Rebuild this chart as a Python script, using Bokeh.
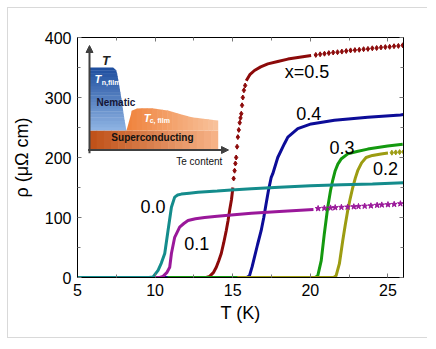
import numpy as np
from bokeh.plotting import figure
from bokeh.models import Range1d, LinearAxis, Label, Arrow, NormalHead, FixedTicker, CustomJSTickFormatter
from bokeh.embed import file_html
from bokeh.resources import INLINE

# ---------------- data ----------------
x_ticks = [5, 10, 15, 20, 25]
x_minor = [7.5, 12.5, 17.5, 22.5]
y_ticks = [0, 100, 200, 300, 400]
y_minor = [50, 150, 250, 350]

# x = 0.0
T_00 = [5, 9.6, 9.87, 10.19, 10.4, 10.62, 10.83, 11.05, 11.26, 11.45, 11.69, 12.2, 12.76, 14.0, 14.9, 16.2, 18.0, 20.0, 22.0, 24.0, 26.0]
R_00 = [0, 0, 1, 12, 24, 40, 78, 117, 134, 137.5, 139, 140.5, 142, 144, 146, 148, 150.5, 153, 154.5, 156, 158]
# x = 0.1
T_01 = [5, 10.3, 10.51, 10.75, 10.94, 11.05, 11.26, 11.58, 11.85, 12.12, 12.6, 13.19, 14.0, 14.9, 16.2, 18.0, 20.2]
R_01 = [0, 0, 2, 8, 17, 40, 67, 84, 90, 95, 98, 100, 102, 104, 107, 110, 113.5]
T_01_tail = [20.5, 20.9, 21.3, 21.6, 22.0, 22.4, 22.8, 23.1, 23.5, 23.9, 24.3, 24.6, 25.0, 25.4, 25.8]
R_01_tail = [115, 115.5, 116, 116.5, 117, 117.5, 118, 118.5, 119, 119.5, 120.5, 121, 121.5, 122, 123]
# x = 0.2
T_02 = [15.3, 21.5, 21.66, 21.87, 22.09, 22.25, 22.41, 22.57, 22.73, 22.9, 23.05, 23.3, 23.59, 24.0, 24.55, 25.0]
R_02 = [0, 0, 3, 23, 62, 88, 112, 132, 150, 166, 178, 191, 200, 203.5, 206, 207.5]
T_02_tail = [25.25, 25.5, 25.75, 26.0]
R_02_tail = [208, 208.5, 209, 209.5]
# x = 0.3
T_03 = [10.8, 20.3, 20.48, 20.7, 20.9, 21.12, 21.3, 21.44, 21.6, 21.77, 22.0, 22.41, 23.0, 23.7, 24.98, 25.95]
R_03 = [0, 0, 3, 28, 73, 117, 145, 162, 178, 189, 198, 206, 210, 214, 219, 222]
# x = 0.4
T_04 = [5, 15.9, 16.08, 16.25, 16.4, 16.6, 16.83, 17.0, 17.15, 17.3, 17.48, 17.58, 17.9, 18.33, 18.55, 19.19, 20.05, 21.55, 23.7, 25.8, 26.0]
R_04 = [0, 0, 3, 18, 34, 55, 78, 100, 123, 145, 167, 173, 200, 223, 234, 248, 256, 262, 267, 271, 271.5]
# x = 0.5
T_05_low = [5, 13.3, 13.51, 13.75, 13.94, 14.1, 14.26, 14.42, 14.58, 14.7, 14.8, 14.92, 15.01]
R_05_low = [0, 0, 2, 8, 17, 28, 40, 58, 78, 95, 112, 130, 150]
T_05_steep = [15.06, 15.12, 15.17, 15.22, 15.28, 15.33, 15.39, 15.45, 15.5, 15.55, 15.6, 15.65, 15.72, 15.8]
R_05_steep = [165, 178, 190, 200, 218, 234, 246, 258, 266, 273, 287, 300, 312, 320]
T_05_bend = [15.87, 16.1, 16.4, 16.8, 17.26, 17.9, 18.55, 19.3, 20.05]
R_05_bend = [328, 338, 345, 351, 356, 360, 364, 367, 370]
T_05_tail = [20.35, 20.63, 20.91, 21.19, 21.47, 21.75, 22.03, 22.31, 22.59, 22.87, 23.15, 23.43, 23.71, 23.99, 24.27, 24.55, 24.83, 25.11, 25.39, 25.67, 25.95]
R_05_tail = [371, 372, 373, 374, 375, 375.5, 376.5, 377.5, 378.5, 379, 379.5, 380.5, 381, 382, 382.5, 383.5, 384, 384.5, 385.5, 386, 387]

series_labels = ["x=0.5", "0.4", "0.3", "0.2", "0.0", "0.1"]
label_T = [19.79, 19.89, 22.04, 24.84, 9.86, 12.68]
label_R = [343, 273, 216, 181, 118, 57.5]

x_title = "T (K)"
y_title = "ρ (μΩ cm)"

# inset schematic (Te content u, temperature v, both 0..1)
nem_edge_v = [0.187, 0.234, 0.33, 0.49, 0.68, 0.76, 0.79]
nem_edge_u = [0.266, 0.259, 0.247, 0.23, 0.206, 0.195, 0.17]
tc_u = [0.266, 0.268, 0.285, 0.31, 0.35, 0.45, 0.566, 0.73, 0.926]
tc_v = [0.187, 0.28, 0.35, 0.385, 0.40, 0.40, 0.378, 0.314, 0.282]
sc_top_v = 0.187
sc_right_u = 0.926

C00, C01, C02, C03, C04, C05 = "#148c8c", "#9a189a", "#9c9c12", "#14990f", "#0c0c98", "#8c0a0a"

# ---------------- layout ----------------
FL, FT, FW, FH = 76, 37, 326, 240   # frame position on page
X0, X1, Y0, Y1 = 5, 26, 0, 400

p = figure(frame_width=FW, frame_height=FH, x_range=Range1d(X0, X1), y_range=Range1d(Y0, Y1),
           output_backend="svg", toolbar_location=None,
           min_border_left=FL - 8, min_border_top=FT - 8, min_border_right=24, min_border_bottom=60,
           background_fill_color="white", border_fill_color="white")
p.styles = {"margin": "7px 0px 0px 7px",
            "border-top": "1px solid #d9d9d9", "border-left": "1px solid #d9d9d9",
            "border-bottom": "1px solid #d9d9d9"}
p.grid.visible = False
p.outline_line_color = "black"
p.outline_line_width = 1
p.outline_line_alpha = 1

xt = FixedTicker(ticks=x_ticks, minor_ticks=x_minor)
yt = FixedTicker(ticks=y_ticks, minor_ticks=y_minor)

def style_axis(ax, show_labels):
    ax.axis_line_color = "black"
    ax.major_tick_in = 4
    ax.major_tick_out = 0
    ax.minor_tick_in = 3
    ax.minor_tick_out = 0
    ax.major_tick_line_color = "#777777"
    ax.minor_tick_line_color = "#777777"
    ax.major_label_text_font = "Liberation Sans"
    ax.major_label_text_color = "black"
    ax.major_label_text_font_size = "16px"
    ax.axis_label_text_font = "Liberation Sans"
    ax.axis_label_text_font_size = "18px"
    ax.axis_label_text_font_style = "normal"
    ax.axis_label_text_color = "black"
    if show_labels:
        ax.major_label_standoff = 6
    else:
        ax.formatter = CustomJSTickFormatter(code="return ''")
        ax.major_label_standoff = 0

p.xaxis.ticker = xt
p.yaxis.ticker = yt
style_axis(p.xaxis[0], True)
style_axis(p.yaxis[0], True)
p.xaxis.axis_label = x_title
p.xaxis.axis_label_standoff = 4
p.yaxis.axis_label = y_title
p.yaxis.axis_label_standoff = 10
ax_top = LinearAxis(ticker=xt)
ax_right = LinearAxis(ticker=yt)
style_axis(ax_top, False)
style_axis(ax_right, False)
p.add_layout(ax_top, "above")
p.add_layout(ax_right, "right")

# ---------------- inset schematic ----------------
IU0, IU1 = 88, 227       # px of u=0, u=1
IV0, IV1 = 149.5, 45     # py of v=0, v=1
ku = IU1 - IU0
kv = IV0 - IV1
p.extra_x_ranges = {"ix": Range1d((FL - IU0) / ku, (FL + FW - IU0) / ku)}
p.extra_y_ranges = {"iy": Range1d((IV0 - (FT + FH)) / kv, (IV0 - FT) / kv)}
R = dict(x_range_name="ix", y_range_name="iy")

def lerp(c1, c2, t):
    a = [int(c1[i:i + 2], 16) for i in (1, 3, 5)]
    b = [int(c2[i:i + 2], 16) for i in (1, 3, 5)]
    return "#%02x%02x%02x" % tuple(int(round(a[k] + (b[k] - a[k]) * t)) for k in range(3))

# superconducting band (horizontal gradient)
N = 18
edges = np.linspace(0, sc_right_u, N + 1)
for i in range(N):
    t = i / (N - 1)
    p.quad(left=edges[i], right=min(edges[i + 1] + 0.004, sc_right_u), bottom=0, top=sc_top_v,
           fill_color=lerp("#c0521a", "#f6b286", t), line_color=None, **R)
# Tc dome
dome_edges = np.linspace(tc_u[0], tc_u[-1], N + 1)
for i in range(N):
    t = i / (N - 1)
    ua, ub = dome_edges[i], min(dome_edges[i + 1] + 0.004, tc_u[-1])
    p.varea(x=[ua, ub], y1=[sc_top_v, sc_top_v],
            y2=[np.interp(ua, tc_u, tc_v), np.interp(ub, tc_u, tc_v)],
            fill_color=lerp("#ef843f", "#f8c19a", t), **R)
# nematic region (vertical gradient)
M = 20
vedges = np.linspace(nem_edge_v[0], nem_edge_v[-1], M + 1)
for i in range(M):
    va, vb = vedges[i], min(vedges[i + 1] + 0.004, nem_edge_v[-1])
    t = i / (M - 1)
    p.patch(x=[0, np.interp(va, nem_edge_v, nem_edge_u), np.interp(vb, nem_edge_v, nem_edge_u), 0],
            y=[va, va, vb, vb], fill_color=lerp("#8db2e2", "#1f4f9f", t), line_color=None, **R)

head = dict(size=7, fill_color="#404040", line_color="#404040")
p.add_layout(Arrow(end=NormalHead(**head), x_start=0, y_start=-0.03, x_end=0, y_end=1.0,
                   line_width=2, line_color="#404040", **R))
p.add_layout(Arrow(end=NormalHead(**head), x_start=-0.01, y_start=0, x_end=1.0, y_end=0,
                   line_width=2, line_color="#404040", **R))

def ilabel(u, v, text, size, color="black", style="bold", align="left", baseline="middle"):
    p.add_layout(Label(x=u, y=v, text=text, text_font="Liberation Sans", text_font_size=size,
                       text_color=color, text_font_style=style, text_align=align,
                       text_baseline=baseline, **R))

ilabel(0.09, 0.86, "T", "13px", "#222222", "bold italic")
ilabel(0.036, 0.675, "T", "11px", "white", "bold italic")
ilabel(0.088, 0.645, "n,film", "7px", "white", "bold")
ilabel(0.05, 0.455, "Nematic", "10px", "#161636", "bold")
ilabel(0.39, 0.31, "T", "11px", "white", "bold italic")
ilabel(0.433, 0.28, "c, film", "7px", "white", "bold")
ilabel(0.453, 0.115, "Superconducting", "10px", "#111111", "bold", align="center")
ilabel(0.79, -0.11, "Te content", "10px", "#111111", "normal", align="center")

# ---------------- curves ----------------
LW = 3
p.line(T_05_low, R_05_low, line_width=LW, color=C05)
p.scatter(T_05_steep, R_05_steep, marker="diamond", size=5, color=C05)
p.line(T_05_bend, R_05_bend, line_width=LW, color=C05)
p.scatter(T_05_tail, R_05_tail, marker="diamond", size=5, color=C05)

p.line(T_04, R_04, line_width=LW, color=C04)
p.line(T_03, R_03, line_width=LW, color=C03)
p.line(T_02, R_02, line_width=LW, color=C02)
p.scatter(T_02_tail, R_02_tail, marker="diamond", size=5, color=C02)
p.line(T_01, R_01, line_width=LW, color=C01)
p.scatter(T_01_tail, R_01_tail, marker="star", size=6, color=C01)
p.line(T_00, R_00, line_width=LW, color=C00)

for txt, tx, ry in zip(series_labels, label_T, label_R):
    p.add_layout(Label(x=tx, y=ry, text=txt, text_font="Liberation Sans", text_font_size="18px",
                       text_color="black", text_align="center", text_baseline="middle"))

open("out.html", "w").write(file_html(p, INLINE))
